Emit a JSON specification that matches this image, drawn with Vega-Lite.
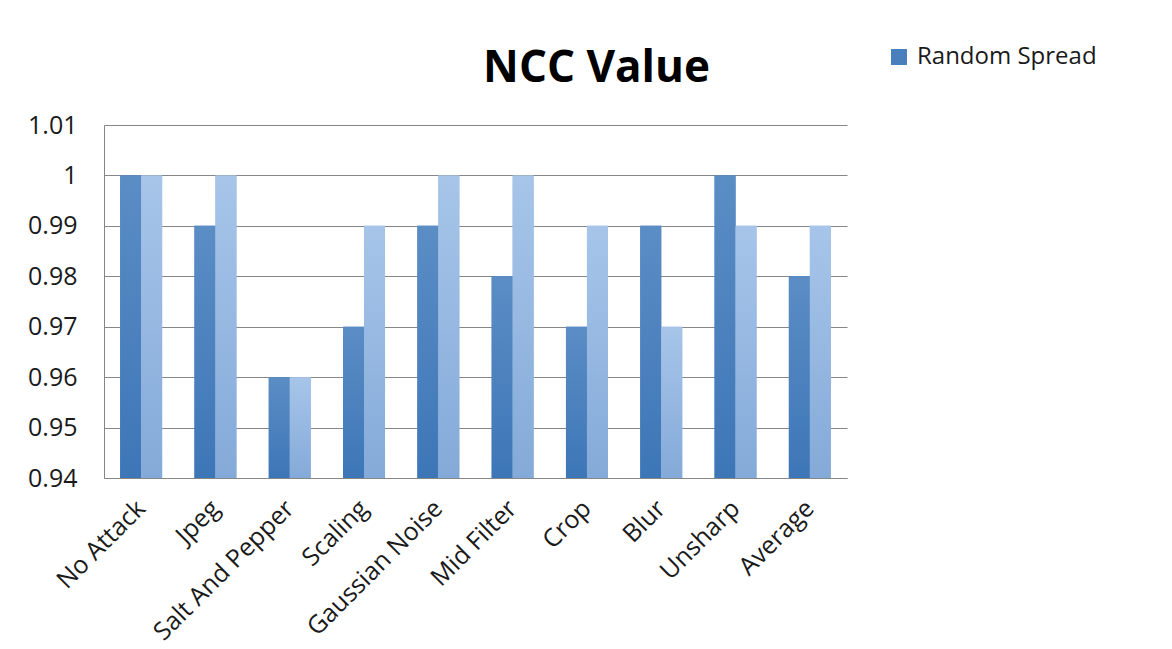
{
  "$schema": "https://vega.github.io/schema/vega-lite/v6.json",
  "width": 743,
  "height": 353,
  "autosize": {"type": "none"},
  "padding": {"left": 104, "top": 125, "right": 325, "bottom": 171},
  "background": "white",
  "config": {
    "font": "Open Sans",
    "view": {"stroke": null},
    "axis": {"labelFont": "Open Sans", "labelColor": "#1a1a1a"}
  },
  "title": {
    "text": "NCC Value",
    "font": "Open Sans",
    "fontSize": 44,
    "fontWeight": "bold",
    "color": "#000000",
    "anchor": "middle",
    "frame": "group",
    "dx": 121,
    "offset": -81,
    "baseline": "alphabetic"
  },
  "data": {
    "values": [
      {"attack": "No Attack", "series": "Random Spread", "value": 1.0},
      {"attack": "No Attack", "series": "Series 2", "value": 1.0},
      {"attack": "Jpeg", "series": "Random Spread", "value": 0.99},
      {"attack": "Jpeg", "series": "Series 2", "value": 1.0},
      {"attack": "Salt And Pepper", "series": "Random Spread", "value": 0.96},
      {"attack": "Salt And Pepper", "series": "Series 2", "value": 0.96},
      {"attack": "Scaling", "series": "Random Spread", "value": 0.97},
      {"attack": "Scaling", "series": "Series 2", "value": 0.99},
      {"attack": "Gaussian Noise", "series": "Random Spread", "value": 0.99},
      {"attack": "Gaussian Noise", "series": "Series 2", "value": 1.0},
      {"attack": "Mid Filter", "series": "Random Spread", "value": 0.98},
      {"attack": "Mid Filter", "series": "Series 2", "value": 1.0},
      {"attack": "Crop", "series": "Random Spread", "value": 0.97},
      {"attack": "Crop", "series": "Series 2", "value": 0.99},
      {"attack": "Blur", "series": "Random Spread", "value": 0.99},
      {"attack": "Blur", "series": "Series 2", "value": 0.97},
      {"attack": "Unsharp", "series": "Random Spread", "value": 1.0},
      {"attack": "Unsharp", "series": "Series 2", "value": 0.99},
      {"attack": "Average", "series": "Random Spread", "value": 0.98},
      {"attack": "Average", "series": "Series 2", "value": 0.99}
    ]
  },
  "encoding": {
    "x": {
      "field": "attack",
      "type": "nominal",
      "sort": null,
      "scale": {"paddingInner": 0.435, "paddingOuter": 0.2175},
      "axis": {
        "title": null,
        "labelAngle": -45,
        "labelAlign": "right",
        "labelBaseline": "middle",
        "labelFontSize": 25,
        "labelPadding": 26,
        "labelLimit": 0,
        "ticks": false,
        "domainColor": "#868686",
        "domainWidth": 1,
        "grid": false
      }
    },
    "xOffset": {
      "field": "series",
      "type": "nominal",
      "scale": {"domain": ["Random Spread", "Series 2"], "paddingInner": 0, "paddingOuter": 0}
    },
    "y": {
      "field": "value",
      "type": "quantitative",
      "scale": {"domain": [0.94, 1.01], "nice": false, "zero": false},
      "axis": {
        "title": null,
        "values": [0.94, 0.95, 0.96, 0.97, 0.98, 0.99, 1.0, 1.01],
        "format": ".2~f",
        "labelFontSize": 25,
        "labelPadding": 27,
        "ticks": false,
        "grid": true,
        "gridColor": "#868686",
        "gridWidth": 1,
        "domainColor": "#868686",
        "domainWidth": 1
      }
    },
    "y2": {"datum": 0.94}
  },
  "layer": [
    {
      "mark": {"type": "bar"},
      "encoding": {
        "color": {
          "field": "series",
          "type": "nominal",
          "scale": {"domain": ["Random Spread", "Series 2"], "range": ["#4a7fbe", "#95b6de"]},
          "legend": {
            "values": ["Random Spread"],
            "title": null,
            "orient": "none",
            "legendX": 783,
            "legendY": -80,
            "padding": 0,
            "symbolType": "square",
            "symbolSize": 256,
            "symbolStrokeWidth": 0,
            "labelFont": "Open Sans",
            "labelFontSize": 24,
            "labelLimit": 0,
            "labelColor": "#1a1a1a",
            "labelOffset": 6
          }
        }
      }
    },
    {
      "transform": [{"filter": "datum.series === 'Random Spread'"}],
      "mark": {
        "type": "bar",
        "fill": {
          "gradient": "linear", "x1": 0, "y1": 0, "x2": 0, "y2": 1,
          "stops": [{"offset": 0, "color": "#5b8dc5"}, {"offset": 1, "color": "#3d76b7"}]
        }
      }
    },
    {
      "transform": [{"filter": "datum.series === 'Series 2'"}],
      "mark": {
        "type": "bar",
        "fill": {
          "gradient": "linear", "x1": 0, "y1": 0, "x2": 0, "y2": 1,
          "stops": [{"offset": 0, "color": "#a7c5e9"}, {"offset": 1, "color": "#84aad9"}]
        }
      }
    }
  ]
}
